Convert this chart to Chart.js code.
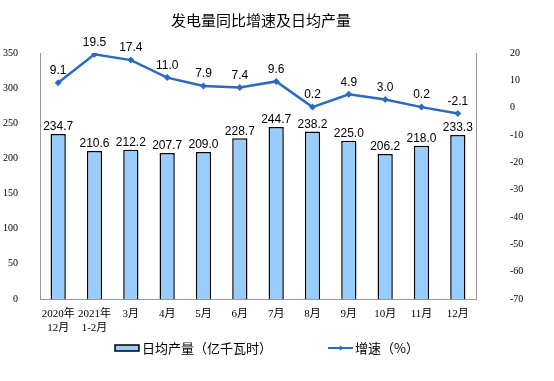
<!DOCTYPE html>
<html>
<head>
<meta charset="utf-8">
<script src="https://cdn.jsdelivr.net/npm/chart.js@4"></script>
<style>
  html, body { margin: 0; padding: 0; background: #fff; }
  #wrap { width: 554px; height: 381px; }
</style>
</head>
<body>
<div id="wrap"><canvas id="chart" width="554" height="381"></canvas></div>
<script>
const months = [['2020年', '12月'], ['2021年', '1-2月'], '3月', '4月', '5月', '6月', '7月', '8月', '9月', '10月', '11月', '12月'];
const dailyOutput = [234.7, 210.6, 212.2, 207.7, 209.0, 228.7, 244.7, 238.2, 225.0, 206.2, 218.0, 233.3];
const growthRate = [9.1, 19.5, 17.4, 11.0, 7.9, 7.4, 9.6, 0.2, 4.9, 3.0, 0.2, -2.1];

const lineColor = '#2a6bc0';
const barFill = '#99ccff';
const cjk = '"Noto Sans CJK SC", sans-serif';
const numFont = '"Liberation Sans", Arial, sans-serif';
const tickFont = '"Liberation Serif", "Noto Sans CJK SC", serif';

// value labels, title and legend are drawn by hand
const decorations = {
    id: 'decorations',
    afterDatasetsDraw(chart) {
        const ctx = chart.ctx;
        ctx.save();
        ctx.fillStyle = '#000';
        ctx.font = '12px ' + numFont;
        ctx.textAlign = 'center';
        ctx.textBaseline = 'bottom';
        chart.getDatasetMeta(0).data.forEach((bar, i) => {
            ctx.fillText(dailyOutput[i].toFixed(1), bar.x, bar.y - 1);
        });
        chart.getDatasetMeta(1).data.forEach((pt, i) => {
            ctx.fillText(growthRate[i].toFixed(1), pt.x, pt.y - 6);
        });

        // title
        ctx.font = '15px ' + cjk;
        ctx.textBaseline = 'middle';
        ctx.fillText('发电量同比增速及日均产量', 261, 20);

        // legend
        ctx.fillStyle = barFill;
        ctx.strokeStyle = '#000';
        ctx.lineWidth = 1.5;
        ctx.fillRect(115, 345, 24, 6);
        ctx.strokeRect(115, 345, 24, 6);
        ctx.fillStyle = '#000';
        ctx.font = '13px ' + cjk;
        ctx.textAlign = 'left';
        ctx.fillText('日均产量（亿千瓦时）', 142, 348);

        ctx.strokeStyle = lineColor;
        ctx.lineWidth = 2;
        ctx.beginPath();
        ctx.moveTo(328, 348);
        ctx.lineTo(353, 348);
        ctx.stroke();
        ctx.fillStyle = lineColor;
        ctx.beginPath();
        ctx.moveTo(340.5, 345.5);
        ctx.lineTo(343, 348);
        ctx.lineTo(340.5, 350.5);
        ctx.lineTo(338, 348);
        ctx.closePath();
        ctx.fill();
        ctx.fillStyle = '#000';
        ctx.fillText('增速（%）', 355, 348);
        ctx.restore();
    }
};

new Chart(document.getElementById('chart'), {
    data: {
        labels: months,
        datasets: [
            {
                type: 'bar',
                label: '日均产量（亿千瓦时）',
                data: dailyOutput,
                backgroundColor: barFill,
                borderColor: '#000',
                borderWidth: 1.5,
                barPercentage: 0.42,
                categoryPercentage: 1,
                yAxisID: 'y',
                order: 2
            },
            {
                type: 'line',
                label: '增速（%）',
                data: growthRate,
                borderColor: lineColor,
                backgroundColor: lineColor,
                borderWidth: 2.5,
                pointStyle: 'rectRot',
                pointRadius: 3.5,
                pointBorderWidth: 0,
                tension: 0,
                yAxisID: 'y1',
                order: 1
            }
        ]
    },
    options: {
        responsive: false,
        animation: false,
        layout: { padding: { top: 53, left: 0, right: 0, bottom: 0 } },
        plugins: {
            legend: { display: false },
            title: { display: false },
            tooltip: { enabled: false }
        },
        scales: {
            x: {
                grid: { display: false, drawTicks: true },
                border: { color: '#999' },
                ticks: {
                    color: '#000',
                    font: { family: tickFont, size: 11 },
                    maxRotation: 0,
                    autoSkip: false,
                    padding: 1
                },
                afterFit(axis) { axis.height = 82; }
            },
            y: {
                position: 'left',
                min: 0,
                max: 350,
                grid: { display: false },
                border: { color: '#999' },
                ticks: {
                    stepSize: 50,
                    color: '#000',
                    font: { family: tickFont, size: 10 },
                    padding: 14
                },
                afterFit(axis) { axis.width = 40; }
            },
            y1: {
                position: 'right',
                min: -70,
                max: 20,
                grid: { display: false },
                border: { color: '#999' },
                ticks: {
                    stepSize: 10,
                    color: '#000',
                    font: { family: tickFont, size: 10 },
                    padding: 26
                },
                afterFit(axis) { axis.width = 78; }
            }
        }
    },
    plugins: [decorations]
});
</script>
</body>
</html>
